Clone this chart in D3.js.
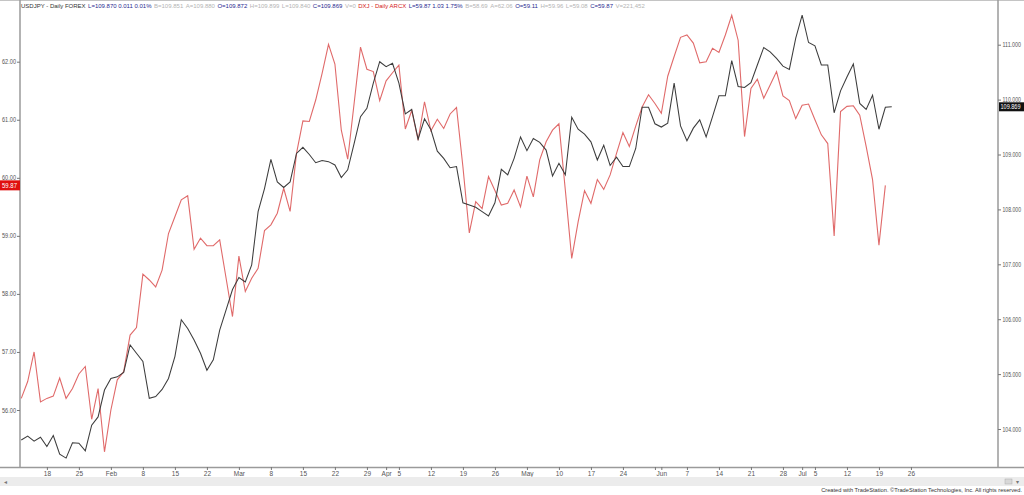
<!DOCTYPE html>
<html><head><meta charset="utf-8">
<script src="https://cdn.jsdelivr.net/npm/d3@7"></script>
<style>
html,body{margin:0;padding:0;background:#fff;}
svg{display:block;font-family:"Liberation Sans",Arial,sans-serif;}
</style></head>
<body><svg id="c" width="1024" height="495"></svg>
<script>
// ---- data ----
const startDate = "2021-01-12";          // first trading day shown (weekday calendar)
const lastTickDate = "2021-07-31";       // time labels shown up to this date
const dxjValues = [56.20,56.49,57.00,56.14,56.20,56.24,56.55,56.20,56.37,56.62,56.75,55.84,56.37,55.28,56.00,56.52,56.66,57.29,57.42,58.34,58.24,58.12,58.41,59.04,59.33,59.62,59.69,58.77,58.96,58.83,58.83,58.93,58.27,57.61,58.65,58.04,58.27,58.44,59.09,59.19,59.39,59.82,59.42,60.42,60.98,60.97,61.34,61.80,62.30,61.96,60.82,60.32,61.28,62.25,61.87,61.83,61.33,61.67,61.81,61.94,60.84,61.16,60.65,61.31,60.81,61.01,60.85,61.10,61.21,60.19,59.05,59.59,59.47,60.02,59.78,59.53,59.56,59.79,59.50,60.03,59.67,60.31,60.62,60.82,60.93,59.79,58.61,59.24,59.78,59.56,59.97,59.80,60.05,60.42,60.78,60.54,60.89,61.22,61.43,61.28,61.11,61.75,62.09,62.42,62.46,62.32,61.98,62.00,62.23,62.16,62.46,62.80,62.37,60.71,61.54,61.70,61.37,61.60,61.83,61.41,61.33,61.02,61.25,61.27,61.00,60.74,60.59,59.00,61.14,61.23,61.24,61.08,60.54,59.97,58.84,59.87];
const usdjpyValues = [103.80,103.87,103.78,103.85,103.68,103.88,103.54,103.47,103.75,103.74,103.60,104.07,104.22,104.71,104.92,104.95,105.03,105.53,105.38,105.23,104.56,104.59,104.72,104.92,105.32,105.99,105.83,105.62,105.38,105.07,105.26,105.80,106.17,106.54,106.76,106.68,106.99,107.96,108.38,108.91,108.50,108.40,108.50,109.02,109.13,109.00,108.85,108.89,108.87,108.81,108.58,108.72,109.20,109.69,109.84,110.30,110.69,110.60,110.66,110.30,109.74,109.82,109.28,109.65,109.45,109.06,108.93,108.76,108.78,108.12,108.08,108.04,107.96,107.88,108.12,108.73,108.63,108.93,109.32,109.07,109.29,109.22,109.08,108.61,108.84,108.63,109.68,109.46,109.37,109.23,108.90,109.17,108.80,108.95,108.78,108.78,109.11,109.86,109.86,109.56,109.50,109.57,110.30,109.52,109.25,109.48,109.63,109.32,109.69,110.07,110.07,110.71,110.24,110.22,110.31,110.63,110.95,110.87,110.75,110.61,110.55,111.12,111.54,111.04,110.98,110.63,110.63,109.76,110.16,110.41,110.65,109.93,109.82,110.08,109.46,109.86,109.87];
const dxjTicks = [56,57,58,59,60,61,62];
const usdjpyTicks = [104,105,106,107,108,109,110,111];
const dxjLast = 59.87;
const usdjpyLast = 109.869;
const monthNames = ["Jan","Feb","Mar","Apr","May","Jun","Jul","Aug","Sep","Oct","Nov","Dec"];
const headerTexts = ["USDJPY - Daily FOREX","L=109.870 0.011 0.01%","B=109.851","A=109.880","O=109.872","H=109.899","L=109.840","C=109.869","V=0",
  "DXJ - Daily ARCX","L=59.87 1.03 1.75%","B=58.69","A=62.06","O=59.11","H=59.96","L=59.08","C=59.87","V=221,452"];
const headerKinds = ["name","last","quote","quote","key","quote","quote","key","quote","name2","last","quote","quote","key","quote","quote","key","quote"];
const footerText = "Created with TradeStation. \u00A9TradeStation Technologies, Inc. All rights reserved.";

// ---- build weekday calendar ----
const totalSlots = 153;
const dates = [];
{
  let dt = new Date(startDate + "T12:00:00");
  while (dates.length < totalSlots) {
    const wd = dt.getDay();
    if (wd !== 0 && wd !== 6) dates.push(new Date(dt));
    dt = new Date(dt.getTime() + 86400000);
  }
}
const tickLimit = new Date(lastTickDate + "T23:00:00");

const svg = d3.select("#c");
const W = 1024, H = 495;
const L = 20, R = 998, T = 0, B = 467;

const x = d3.scaleLinear().domain([-0.2, 152.6]).range([L, R]);
const yL = d3.scaleLinear().domain([56, 62]).range([410, 61.7]);
const yR = d3.scaleLinear().domain([104, 111]).range([429, 44.7]);

svg.append("defs").append("clipPath").attr("id","clip")
  .append("rect").attr("x",L).attr("y",T+1).attr("width",R-L).attr("height",B-T-1);

// frame lines
svg.append("line").attr("x1",0).attr("x2",W).attr("y1",0.5).attr("y2",0.5).attr("stroke","#c4c4c4");
svg.append("line").attr("x1",L).attr("x2",L).attr("y1",0).attr("y2",B).attr("stroke","#9a9a9a").attr("stroke-width",1.5);
svg.append("line").attr("x1",R).attr("x2",R).attr("y1",0).attr("y2",B).attr("stroke","#9a9a9a").attr("stroke-width",1.5);

// series lines
const g = svg.append("g").attr("clip-path","url(#clip)");
const lineL = d3.line().x((d,i)=>x(i)).y(d=>yL(d));
const lineR = d3.line().x((d,i)=>x(i)).y(d=>yR(d));
g.append("path").datum(dxjValues).attr("d",lineL).attr("fill","none").attr("stroke","#e06a6a").attr("stroke-width",1.1);
g.append("path").datum(usdjpyValues).attr("d",lineR).attr("fill","none").attr("stroke","#3c3c3c").attr("stroke-width",1.05);

// left axis
const axL = d3.axisLeft(yL).tickValues(dxjTicks).tickFormat(d3.format(".2f")).tickSize(3).tickPadding(1);
const gL = svg.append("g").attr("transform",`translate(${L},0)`).call(axL);
gL.select(".domain").remove();
gL.selectAll("text").attr("font-size",6.3).attr("fill","#555").attr("textLength",14).attr("lengthAdjust","spacingAndGlyphs");
gL.selectAll("line").attr("stroke","#777");

// right axis
const axR = d3.axisRight(yR).tickValues(usdjpyTicks).tickFormat(d3.format(".3f")).tickSize(3).tickPadding(1.5);
const gR = svg.append("g").attr("transform",`translate(${R},0)`).call(axR);
gR.select(".domain").remove();
gR.selectAll("text").attr("font-size",6.3).attr("fill","#555").attr("textLength",18.5).attr("lengthAdjust","spacingAndGlyphs");
gR.selectAll("line").attr("stroke","#777");

// last value labels
svg.append("rect").attr("x",0).attr("y",yL(dxjLast)-5).attr("width",L).attr("height",10).attr("fill","#e01010");
svg.append("text").attr("x",2).attr("y",yL(dxjLast)+2.3).attr("font-size",6.3).attr("fill","#fff")
  .attr("textLength",15).attr("lengthAdjust","spacingAndGlyphs").text(dxjLast.toFixed(2));
svg.append("rect").attr("x",R+1).attr("y",yR(usdjpyLast)-4.5).attr("width",W-R-1).attr("height",9).attr("fill","#111");
svg.append("text").attr("x",R+2.5).attr("y",yR(usdjpyLast)+2.3).attr("font-size",6.3).attr("fill","#fff")
  .attr("textLength",20).attr("lengthAdjust","spacingAndGlyphs").text(usdjpyLast.toFixed(3));

// x axis
svg.append("line").attr("x1",0).attr("x2",W).attr("y1",B+0.5).attr("y2",B+0.5).attr("stroke","#9a9a9a").attr("stroke-width",1.5);
const tickIdx = [], tickLab = {};
dates.forEach((dt,i)=>{
  if (dt > tickLimit) return;
  const prev = i>0 ? dates[i-1] : null;
  const newMonth = prev && prev.getMonth() !== dt.getMonth();
  if (newMonth) { tickIdx.push(i); tickLab[i] = monthNames[dt.getMonth()]; }
  else if (dt.getDay() === 1) {
    tickIdx.push(i);
    const nxt = dates[i+1];
    tickLab[i] = (nxt && nxt.getMonth() !== dt.getMonth()) ? "" : String(dt.getDate());
  }
});
const axX = d3.axisBottom(x).tickValues(tickIdx).tickFormat(i=>tickLab[i]).tickSize(3).tickPadding(1.5);
const gX = svg.append("g").attr("transform",`translate(0,${B})`).call(axX);
gX.select(".domain").remove();
gX.selectAll("text").attr("font-size",6.5).attr("fill","#555");
gX.selectAll("line").attr("stroke","#777");

// bottom strip
svg.append("rect").attr("x",0).attr("y",477).attr("width",W).attr("height",9).attr("fill","#ececec");
svg.append("text").attr("x",4).attr("y",484).attr("font-size",6).attr("fill","#777").text("\u25C2");
svg.append("rect").attr("x",1005).attr("y",479).attr("width",7).attr("height",5).attr("fill","#d8d8d8").attr("stroke","#aaa").attr("stroke-width",0.5);
svg.append("text").attr("x",1016).attr("y",484).attr("font-size",6).attr("fill","#777").text("\u25BE");
svg.append("text").attr("x",1022).attr("y",492).attr("text-anchor","end").attr("font-size",5.7).attr("fill","#333").text(footerText);

// header (flowing text)
const kindColor = {name:"#333", name2:"#d42020", last:"#2a2a90", key:"#2a2a90", quote:"#b4b4b4"};
const hdr = svg.append("text").attr("x",21).attr("y",7.5).attr("font-size",6);
headerTexts.forEach((t,i)=>{
  hdr.append("tspan").attr("dx", i===0?0:2.5).attr("fill",kindColor[headerKinds[i]]).text(t);
});
</script></body></html>
